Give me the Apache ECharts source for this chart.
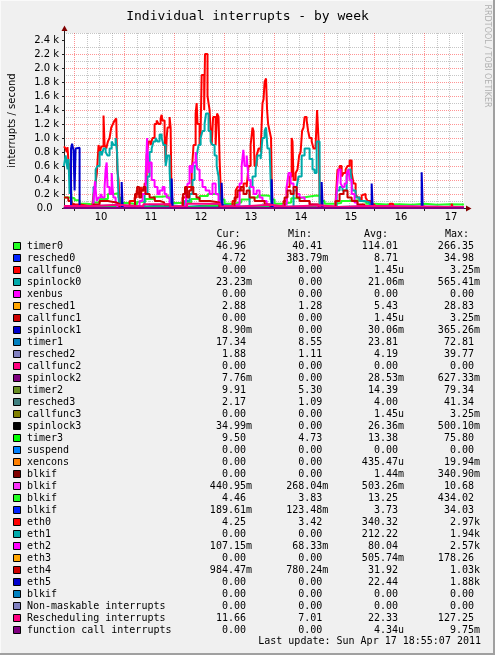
<!DOCTYPE html>
<html><head><meta charset="utf-8">
<script src="https://cdn.jsdelivr.net/npm/echarts@6/dist/echarts.min.js"></script>
<style>html,body{margin:0;padding:0;background:#f0f0f0}#c{width:495px;height:655px}</style>
</head><body><div id="c"></div>
<script>
// ---- time: hours relative to Sun Apr 10 2011 00:00 ; window = last 8 days ending Apr 17 18:55 ----
const xStart = -5.08;
const xEnd = 186.92;
const dayLabels = ['10','11','12','13','14','15','16','17'];
const yTickValues = [0,200,400,600,800,1000,1200,1400,1600,1800,2000,2200,2400];
const yMax = 2500;

const seriesNames = ['timer0','resched0','callfunc0','spinlock0','xenbus','resched1','callfunc1','spinlock1','timer1','resched2','callfunc2','spinlock2','timer2','resched3','callfunc3','spinlock3','timer3','suspend','xencons','blkif','blkif','blkif','blkif','eth0','eth1','eth2','eth3','eth4','eth5','blkif','Non-maskable interrupts','Rescheduling interrupts','function call interrupts'];
const palette = ['#22ff22','#0022ff','#ff0000','#00aaaa','#ff00ff','#ffa500','#cc0000','#0000cc','#0080c0','#8080c0','#ff0080','#800080','#688e23','#408080','#808000','#000000','#00ff00','#0080ff','#ff8000','#800000','#fb31fb','#22ff22','#0022ff','#ff0000','#00aaaa','#ff00ff','#ffa500','#cc0000','#0000cc','#0080c0','#8080c0','#ff0080','#800080'];

const statCur = ['46.96','4.72','0.00','23.23m','0.00','2.88','0.00','8.90m','17.34','1.88','0.00','7.76m','9.91','2.17','0.00','34.99m','9.50','0.00','0.00','0.00','440.95m','4.46','189.61m','4.25','0.00','107.15m','0.00','984.47m','0.00','0.00','0.00','11.66','0.00'];
const statMin = ['40.41','383.79m','0.00','0.00','0.00','1.28','0.00','0.00','8.55','1.11','0.00','0.00','5.30','1.09','0.00','0.00','4.73','0.00','0.00','0.00','268.04m','3.83','123.48m','3.42','0.00','68.33m','0.00','780.24m','0.00','0.00','0.00','7.01','0.00'];
const statAvg = ['114.01','8.71','1.45u','21.06m','0.00','5.43','1.45u','30.06m','23.81','4.19','0.00','28.53m','14.39','4.00','1.45u','26.36m','13.38','0.00','435.47u','1.44m','503.26m','13.25','3.73','340.32','212.22','80.04','505.74m','31.92','22.44','0.00','0.00','22.33','4.34u'];
const statMax = ['266.35','34.98','3.25m','565.41m','0.00','28.83','3.25m','365.26m','72.81','39.77','0.00','627.33m','79.34','41.34','3.25m','500.10m','75.80','0.00','19.94m','340.90m','10.68','434.02','34.03','2.97k','1.94k','2.57k','178.26','1.03k','1.88k','0.00','0.00','127.25','9.75m'];
const statHeaders = ['Cur:','Min:','Avg:','Max:'];
const lastUpdate = 'Last update: Sun Apr 17 18:55:07 2011';

// ---- series values [hour, interrupts/s] ----
const d_timer0 = [[-5.1,150],[-2,140],[0,110],[2.4,60],[6,50],[9,80],[12,130],[16,200],[19,210],[21,150],[22,70],[26,55],[30,90],[34,130],[38,160],[42,170],[45,140],[47,70],[52,80],[56,130],[60,170],[64,200],[68,180],[70,120],[72,60],[76,80],[80,120],[84,150],[88,180],[92,170],[94,120],[96,60],[100,80],[104,140],[108,160],[112,180],[116,170],[118,100],[120,60],[125,70],[128,100],[132,110],[136,90],[140,60],[144,50],[150,55],[156,45],[162,60],[168,45],[174,55],[180,50],[186.9,47]];
const d_resched0 = [[-5.1,10],[9,15],[21,8],[33,18],[46,8],[54,20],[70,8],[80,15],[94,8],[102,14],[118,8],[126,10],[142,5],[186.9,5]];
const d_callfunc0 = [[-5.1,0],[186.9,0]];
const d_spinlock0 = [[-5.1,0.02],[186.9,0.02]];
const d_xenbus = [[-5.1,0],[186.9,0]];
const d_resched1 = [[-5.1,5],[9,8],[21,4],[33,10],[46,4],[54,12],[70,4],[80,8],[94,4],[102,7],[118,3],[126,6],[142,2],[186.9,3]];
const d_callfunc1 = [[-5.1,0],[186.9,0]];
const d_spinlock1 = [[-5.1,0.03],[186.9,0.01]];
const d_timer1 = [[-5.1,30],[9,35],[21,20],[33,40],[46,18],[54,45],[70,20],[80,35],[94,18],[102,30],[118,15],[126,25],[142,12],[186.9,17]];
const d_resched2 = [[-5.1,4],[9,6],[21,3],[33,8],[46,3],[54,9],[70,3],[80,6],[94,3],[102,5],[118,2],[126,4],[142,2],[186.9,2]];
const d_callfunc2 = [[-5.1,0],[186.9,0]];
const d_spinlock2 = [[-5.1,0.03],[186.9,0.01]];
const d_timer2 = [[-5.1,15],[9,20],[21,12],[33,25],[46,10],[54,28],[70,12],[80,22],[94,10],[102,18],[118,8],[126,15],[142,7],[186.9,10]];
const d_resched3 = [[-5.1,4],[9,6],[21,3],[33,7],[46,3],[54,8],[70,3],[80,6],[94,3],[102,5],[118,2],[126,4],[142,2],[186.9,2]];
const d_callfunc3 = [[-5.1,0],[186.9,0]];
const d_spinlock3 = [[-5.1,0.03],[186.9,0.03]];
const d_timer3 = [[-5.1,15],[9,18],[21,10],[33,22],[46,9],[54,25],[70,10],[80,20],[94,9],[102,16],[118,7],[126,14],[142,6],[186.9,9.5]];
const d_suspend = [[-5.1,0],[186.9,0]];
const d_xencons = [[-5.1,0],[186.9,0]];
const d_blkif1 = [[-5.1,0],[186.9,0]];
const d_blkif2 = [[-5.1,0.5],[186.9,0.4]];
const d_blkif3 = [[-5.1,10],[9,15],[21,8],[33,20],[46,6],[54,25],[70,8],[80,18],[94,6],[102,15],[118,5],[126,10],[142,4],[186.9,4.5]];
const d_blkif4 = [[-5.1,3],[9,5],[21,2],[33,6],[46,2],[54,7],[70,2],[80,5],[94,2],[102,4],[118,1],[126,3],[142,0.2],[186.9,0.2]];
const d_eth0 = [[-5.1,880],[-4.3,850],[-3.8,800],[-3.4,870],[-2.9,650],[-2.4,600],[-1.9,250],[-1.4,80],[-0.5,50],[2.4,30],[7.2,30],[8.6,60],[9.1,200],[10.0,350],[10.7,500],[11.5,900],[12.2,800],[12.8,880],[13.9,1320],[14.4,900],[15.2,850],[16.0,950],[16.8,1000],[17.6,1150],[18.4,1200],[19.2,1250],[20.0,1280],[20.5,550],[21.1,400],[21.6,20],[26.4,100],[28.8,150],[29.8,250],[30.7,200],[31.7,300],[32.6,250],[33.6,350],[34.6,750],[35.5,950],[36.5,900],[37.4,1000],[38.4,1200],[39.4,1250],[40.3,1200],[41.3,1280],[41.8,1330],[42.2,1250],[43.2,1050],[43.7,650],[44.2,1000],[44.6,1150],[45.6,1300],[46.1,1150],[46.6,20],[50.5,30],[51.8,150],[53.3,250],[54.2,300],[55.2,300],[56.2,500],[57.1,900],[58.1,1350],[58.6,1500],[59.0,1200],[60.0,900],[60.5,1100],[61.0,1900],[61.7,1900],[62.2,1400],[62.6,2200],[63.4,2200],[63.8,1600],[64.3,1500],[64.8,1400],[65.3,1100],[65.8,900],[66.5,1300],[67.2,1300],[67.7,900],[68.4,1350],[69.1,1300],[69.6,700],[70.1,300],[70.6,20],[75.8,100],[77.3,250],[78.2,300],[79.7,250],[81.1,350],[82.6,300],[83.5,600],[84.5,900],[85.4,1150],[85.9,1100],[86.4,600],[87.4,750],[88.3,850],[89.3,800],[89.8,1200],[90.2,1500],[90.7,1550],[91.2,1800],[91.9,1850],[92.4,1400],[92.9,1200],[93.6,1100],[94.3,1000],[94.8,20],[100.3,100],[101.8,300],[103.2,450],[104.2,1000],[104.6,950],[105.1,400],[106.1,500],[107.0,550],[107.8,750],[108.5,800],[109.2,1100],[109.9,1150],[110.4,1300],[111.4,1250],[112.1,1100],[112.8,1000],[113.8,950],[114.7,850],[115.7,900],[116.4,1400],[116.9,1400],[117.3,850],[117.7,20],[125.3,100],[126.2,550],[127.2,600],[128.2,450],[129.1,500],[130.1,550],[131.0,600],[132.0,680],[133.0,500],[133.9,350],[134.9,200],[135.8,150],[136.8,120],[137.8,180],[138.7,200],[139.7,150],[140.6,100],[142.1,50],[144.0,20],[151.2,60],[152.7,40],[153.5,15],[181.0,60],[181.5,15],[186.9,10]];
const d_eth1 = [[-5.1,600],[-4.3,750],[-3.8,650],[-3.4,550],[-2.9,700],[-2.4,200],[-1.9,450],[-1.4,100],[-1.0,5],[9.1,300],[10.1,550],[11.0,600],[12.0,800],[13.0,750],[13.9,850],[14.9,800],[15.8,750],[16.8,850],[17.8,950],[18.7,900],[19.7,1000],[20.4,800],[20.9,300],[21.4,0],[33.6,200],[35.0,450],[36.0,800],[37.0,850],[37.9,950],[38.9,1000],[39.8,950],[40.8,1050],[41.8,1000],[42.7,900],[43.7,600],[44.6,750],[45.6,550],[46.3,0],[52.8,100],[55.2,200],[56.6,400],[57.6,600],[58.6,750],[59.5,900],[60.5,1000],[61.4,1100],[62.4,1200],[63.1,1350],[63.8,1350],[64.3,1100],[65.3,950],[66.2,900],[67.2,750],[68.2,600],[69.1,450],[69.8,0],[84.0,300],[85.4,450],[86.9,550],[87.8,750],[89.3,700],[90.2,1000],[91.2,1100],[91.9,1150],[92.6,850],[93.6,850],[94.1,400],[94.6,0],[105.1,250],[106.6,300],[107.5,450],[109.0,750],[110.4,850],[111.4,850],[112.8,700],[114.2,550],[115.2,500],[116.2,950],[117.1,950],[117.6,0],[125.8,250],[127.2,300],[128.6,250],[130.6,450],[131.5,550],[132.5,500],[133.4,250],[134.9,150],[136.8,100],[139.2,80],[141.6,50],[142.6,0],[186.9,0]];
const d_eth2 = [[-5.1,20],[9.1,100],[9.8,380],[10.6,100],[11.5,150],[12.5,200],[13.4,150],[14.4,300],[14.9,550],[15.4,650],[15.8,300],[16.8,200],[17.8,500],[18.2,300],[18.7,150],[19.7,100],[20.6,20],[31.2,100],[32.6,200],[34.1,450],[34.8,1000],[35.5,500],[36.0,650],[37.0,400],[38.4,300],[39.8,200],[40.8,250],[42.2,300],[43.2,200],[44.2,150],[45.6,50],[46.6,20],[53.3,50],[54.2,350],[55.2,600],[56.2,500],[57.1,650],[58.1,800],[58.6,600],[59.0,550],[60.0,400],[61.4,300],[62.9,250],[64.8,200],[66.2,350],[67.7,200],[69.1,100],[70.1,20],[77.8,50],[79.2,350],[80.2,600],[81.0,830],[81.6,600],[82.6,750],[83.5,400],[84.5,300],[85.9,200],[87.4,250],[88.8,150],[90.2,100],[92.2,50],[94.6,20],[100.3,50],[101.8,300],[102.7,500],[103.7,350],[105.1,300],[106.6,200],[108.0,150],[110.4,100],[112.8,50],[116.6,20],[125.3,50],[126.0,300],[126.7,550],[127.7,350],[128.6,300],[129.6,350],[130.6,500],[131.5,550],[132.0,400],[133.0,200],[134.4,80],[135.8,30],[137.0,15],[186.9,15]];
const d_eth3 = [[-5.1,0],[186.9,0]];
const d_eth4 = [[-5.1,150],[-3.0,100],[-1.5,50],[0,5],[9.0,50],[12.0,100],[16.0,80],[20.0,60],[21.5,5],[29.0,200],[30.0,300],[31.0,150],[32.0,250],[33.0,300],[34.0,200],[36.0,150],[38.5,100],[41.0,80],[43.0,50],[46.0,5],[52.0,200],[53.0,300],[54.0,150],[55.0,250],[56.0,300],[57.0,200],[58.5,150],[60.0,100],[65.0,80],[69.5,5],[76.8,150],[78.2,250],[79.7,300],[81.1,200],[82.6,250],[84.0,150],[86.4,100],[91.2,50],[94.0,5],[100.8,150],[102.2,250],[103.7,200],[105.1,300],[106.6,150],[108.0,100],[112.8,50],[117.1,5],[125.3,100],[127.2,200],[129.1,250],[131.0,150],[133.0,100],[135.8,50],[139.2,5],[186.9,1]];
const d_eth5 = [[-5.1,0],[-1.7,850],[-1.2,920],[-0.5,820],[0,250],[0.5,850],[1.4,860],[2.4,0],[22.6,370],[23.1,0],[46.6,420],[47.1,0],[70.6,360],[71.1,0],[94.6,410],[95.1,0],[118.6,370],[119.1,0],[142.6,350],[143.1,0],[166.6,510],[167.1,0],[186.9,0]];
const d_blkif5 = [[-5.1,0],[186.9,0]];
const d_nmi = [[-5.1,0],[186.9,0]];
const d_resched = [[-5.1,30],[9,45],[21,20],[33,55],[46,18],[54,60],[70,20],[80,45],[94,18],[102,40],[118,15],[126,30],[142,12],[186.9,12]];
const d_funccall = [[-5.1,0],[186.9,0]];

const seriesData = [d_timer0,d_resched0,d_callfunc0,d_spinlock0,d_xenbus,d_resched1,d_callfunc1,d_spinlock1,d_timer1,d_resched2,d_callfunc2,d_spinlock2,d_timer2,d_resched3,d_callfunc3,d_spinlock3,d_timer3,d_suspend,d_xencons,d_blkif1,d_blkif2,d_blkif3,d_blkif4,d_eth0,d_eth1,d_eth2,d_eth3,d_eth4,d_eth5,d_blkif5,d_nmi,d_resched,d_funccall];

// ---- derived axis helpers ----
const dayTicks = dayLabels.map((d, i) => i * 24);
const dayMids = dayLabels.map((d, i) => i * 24 + 12);
const minorX = [];
for (let h = 0; h <= xEnd; h += 6) if (h % 24 !== 0) minorX.push(h);
const minorY = [];
for (let v = 100; v <= yMax; v += 200) minorY.push(v);

const MONO = '"DejaVu Sans Mono", monospace';
const SANS = '"DejaVu Sans", sans-serif';
const majorGrid = 'rgba(255,0,0,0.42)';
const minorGrid = 'rgba(128,128,128,0.45)';
const axisCol = '#202020';

const chart = echarts.init(document.getElementById('c'), null, {renderer: 'canvas', width: 495, height: 655});

// legend block
const legendEls = [];
const rowY0 = 246, rowH = 12;
const colRight = [252, 328.3, 404, 480];
const headerX = [216.5, 288, 364, 445];
statHeaders.forEach((h, k) => legendEls.push({type: 'text', x: headerX[k], y: 234, style: {text: h, font: '10px ' + MONO, fill: '#000', align: 'left', verticalAlign: 'middle'}}));
const fmt = s => /[a-z]$/i.test(s) ? s : s + ' ';
seriesNames.forEach((name, i) => {
  const y = rowY0 + i * rowH;
  legendEls.push({type: 'rect', shape: {x: 13.5, y: y - 3.5, width: 7, height: 7}, style: {fill: palette[i], stroke: '#000', lineWidth: 1}});
  legendEls.push({type: 'text', x: 27, y: y, style: {text: name, font: '10px ' + MONO, fill: '#000', align: 'left', verticalAlign: 'middle'}});
  [statCur, statMin, statAvg, statMax].forEach((arr, k) => {
    legendEls.push({type: 'text', x: colRight[k], y: y, style: {text: fmt(arr[i]), font: '10px ' + MONO, fill: '#000', align: 'right', verticalAlign: 'middle'}});
  });
});
legendEls.push({type: 'text', x: 481, y: 641, style: {text: lastUpdate, font: '10px ' + MONO, fill: '#000', align: 'right', verticalAlign: 'middle'}});

const decor = [
  {type: 'rect', shape: {x: 0, y: 0, width: 495, height: 1}, style: {fill: '#fafafa'}},
  {type: 'rect', shape: {x: 0, y: 0, width: 1, height: 655}, style: {fill: '#fafafa'}},
  {type: 'rect', shape: {x: 493, y: 0, width: 2, height: 655}, style: {fill: '#a0a0a0'}},
  {type: 'rect', shape: {x: 0, y: 653, width: 495, height: 2}, style: {fill: '#a0a0a0'}},
  {type: 'text', x: 487, y: 56, rotation: -Math.PI / 2, style: {text: 'RRDTOOL / TOBI OETIKER', font: '8px ' + SANS, fill: '#b0b0b0', align: 'center', verticalAlign: 'middle'}},
  {type: 'line', shape: {x1: 64.5, y1: 33, x2: 64.5, y2: 30}, style: {stroke: axisCol, lineWidth: 1}},
  {type: 'line', shape: {x1: 464, y1: 208.5, x2: 467, y2: 208.5}, style: {stroke: axisCol, lineWidth: 1}},
  {type: 'polygon', shape: {points: [[61.5, 31], [67.5, 31], [64.5, 25.5]]}, style: {fill: '#800000'}},
  {type: 'polygon', shape: {points: [[466, 205.5], [466, 211.5], [471.5, 208.5]]}, style: {fill: '#800000'}}
];

chart.setOption({
  animation: false,
  backgroundColor: '#f0f0f0',
  textStyle: {fontFamily: SANS},
  title: {text: 'Individual interrupts - by week', left: 'center', top: 5,
    textStyle: {fontFamily: MONO, fontSize: 13, fontWeight: 'normal', color: '#000'}},
  grid: {left: 64, top: 33, width: 400, height: 175, show: true, backgroundColor: '#ffffff', borderWidth: 0, outerBoundsMode: 'none'},
  xAxis: [
    {type: 'value', min: xStart, max: xEnd, position: 'bottom', z: 1,
      axisLine: {show: true, onZero: false, lineStyle: {color: axisCol, width: 1}},
      axisTick: {show: true, customValues: dayTicks, length: 3, lineStyle: {color: axisCol}},
      axisLabel: {customValues: dayMids, formatter: v => dayLabels[Math.round((v - 12) / 24)], fontSize: 10, fontFamily: SANS, color: '#000', margin: 4, padding: [0, 0, 0, 3]},
      splitLine: {show: true, lineStyle: {color: majorGrid, width: 1, type: [1, 1]}}},
    {type: 'value', min: xStart, max: xEnd, position: 'bottom', z: 0,
      axisLine: {show: false}, axisTick: {show: false, customValues: minorX}, axisLabel: {show: false},
      splitLine: {show: true, lineStyle: {color: minorGrid, width: 1, type: [1, 1]}}}
  ],
  yAxis: [
    {type: 'value', min: 0, max: yMax, interval: 200, position: 'left', z: 1,
      name: 'interrupts / second', nameLocation: 'middle', nameGap: 47,
      nameTextStyle: {fontSize: 10, fontFamily: SANS, color: '#000'},
      axisLine: {show: true, onZero: false, lineStyle: {color: axisCol, width: 1}},
      axisTick: {show: true, customValues: yTickValues, length: 2, lineStyle: {color: axisCol}},
      axisLabel: {customValues: yTickValues, fontSize: 10, fontFamily: SANS, color: '#000', margin: 5,
        formatter: v => v === 0 ? '0.0  ' : (v / 1000).toFixed(1) + ' k'},
      splitLine: {show: true, showMaxLine: false, lineStyle: {color: majorGrid, width: 1, type: [1, 1]}}},
    {type: 'value', min: 0, max: yMax, interval: 100, position: 'right', z: 0,
      axisLine: {show: false}, axisTick: {show: false, customValues: minorY}, axisLabel: {show: false},
      splitLine: {show: true, lineStyle: {color: minorGrid, width: 1, type: [1, 1]}}}
  ],
  series: seriesNames.map((name, i) => ({
    type: 'line', name: name, data: seriesData[i], step: 'end',
    xAxisIndex: 0, yAxisIndex: 0, symbol: 'none', showSymbol: false, silent: true,
    lineStyle: {width: 2, color: palette[i]}, itemStyle: {color: palette[i]}
  })),
  graphic: {elements: decor.concat(legendEls)}
});
</script></body></html>
